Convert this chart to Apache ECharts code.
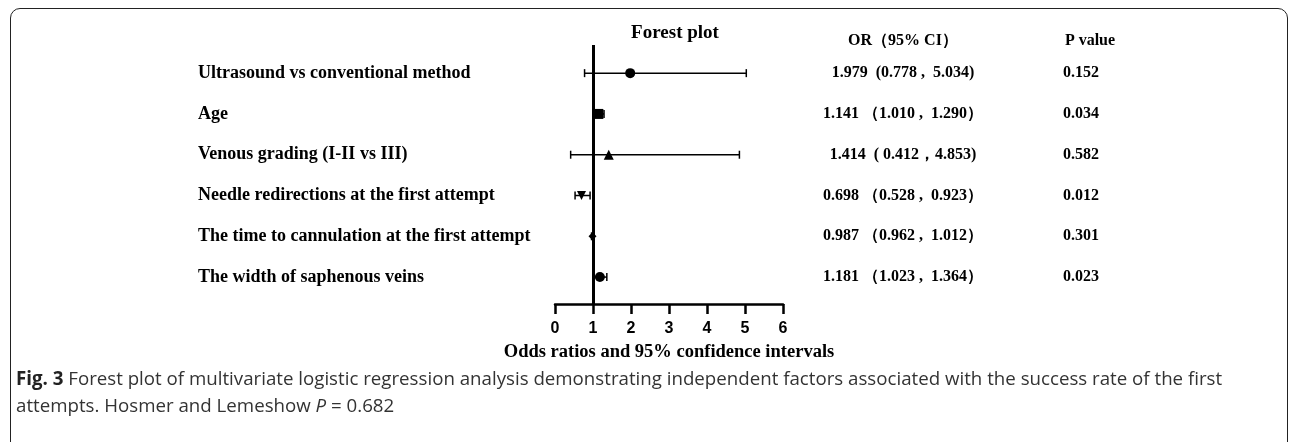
<!DOCTYPE html>
<html>
<head>
<meta charset="utf-8">
<script src="https://cdn.jsdelivr.net/npm/echarts@6/dist/echarts.min.js"></script>
<style>
  html, body { margin: 0; padding: 0; background: #fff; }
  #chart { width: 1292px; height: 442px; }
  #frame {
    position: absolute; left: 10px; top: 8px; width: 1278px; height: 520px;
    border: 1.5px solid #222; border-radius: 10px 10px 0 0;
    pointer-events: none; box-sizing: border-box;
  }
</style>
</head>
<body>
<div id="chart"></div>
<div id="frame"></div>
<script>
// rows, top to bottom
const factors = [
  'Ultrasound vs conventional method',
  'Age',
  'Venous grading (I-II vs III)',
  'Needle redirections at the first attempt',
  'The time to cannulation at the first attempt',
  'The width of saphenous veins'
];
const oddsRatio = [1.979, 1.141, 1.414, 0.698, 0.987, 1.181];
const ciLow = [0.778, 1.010, 0.412, 0.528, 0.962, 1.023];
const ciHigh = [5.034, 1.290, 4.853, 0.923, 1.012, 1.364];
const orText = [
  '1.979  (0.778 ,  5.034)',
  '1.141 （1.010 ,  1.290）',
  '1.414  ( 0.412，4.853)',
  '0.698 （0.528 ,  0.923）',
  '0.987 （0.962 ,  1.012）',
  '1.181 （1.023 ,  1.364）'
];
const pValues = ['0.152', '0.034', '0.582', '0.012', '0.301', '0.023'];
const markers = ['circle', 'rect', 'triangle', 'triangle', 'diamond', 'circle'];
const markerRotate = [0, 0, 0, 180, 0, 0];
const markerSize = [10, 10, 10, 9, 8, 10];
const xTicks = [0, 1, 2, 3, 4, 5, 6];

const rows = factors.map((f, i) => i + 1);
const serif = '"Liberation Serif", "Times New Roman", serif';
const captionFont = '"Open Sans", sans-serif';

const chart = echarts.init(document.getElementById('chart'));

const rowAxis = (extra) => Object.assign({
  type: 'value', inverse: true, min: 0.31, max: 6.66,
  axisLine: { show: false }, axisTick: { show: false }, splitLine: { show: false }
}, extra);

chart.setOption({
  animation: false,
  title: [
    { text: 'Forest plot', left: 670, top: 19, textAlign: 'center',
      textStyle: { fontFamily: serif, fontWeight: 'bold', fontSize: 19, color: '#000' } },
    { text: 'OR（95% CI）', left: 898, top: 28, textAlign: 'center',
      textStyle: { fontFamily: serif, fontWeight: 'bold', fontSize: 16, color: '#000' } },
    { text: 'P value', left: 1085, top: 28, textAlign: 'center',
      textStyle: { fontFamily: serif, fontWeight: 'bold', fontSize: 16, color: '#000' } },
    { text: '{b|Fig. 3} Forest plot of multivariate logistic regression analysis demonstrating independent factors associated with the success rate of the first\nattempts. Hosmer and Lemeshow {i|P} = 0.682',
      left: 11, top: 361,
      textStyle: {
        fontFamily: captionFont, fontSize: 18.7, color: '#333', fontWeight: 'normal', lineHeight: 27,
        rich: {
          b: { fontFamily: captionFont, fontSize: 18.7, fontWeight: 'bold', color: '#222' },
          i: { fontFamily: captionFont, fontSize: 18.7, fontStyle: 'italic', color: '#333' }
        }
      } }
  ],
  grid: { left: 555, right: 509, top: 45, bottom: 138 },
  xAxis: {
    type: 'value', min: 0, max: 6, interval: 1,
    name: 'Odds ratios and 95% confidence intervals',
    nameLocation: 'middle', nameGap: 39,
    nameTextStyle: { fontFamily: serif, fontWeight: 'bold', fontSize: 18.5, color: '#000' },
    axisLine: { lineStyle: { color: '#000', width: 2.5 } },
    axisTick: { length: 10, lineStyle: { color: '#000', width: 2.5 } },
    axisLabel: { margin: 17, fontFamily: '"Liberation Sans", Arial, sans-serif', fontWeight: 'bold',
      fontSize: 16, color: '#000', customValues: xTicks },
    splitLine: { show: false }
  },
  yAxis: [
    rowAxis({ position: 'left',
      axisLabel: { customValues: rows, align: 'left', margin: 357, fontFamily: serif, fontWeight: 'bold',
        fontSize: 18, color: '#000', formatter: v => factors[Math.round(v) - 1] } }),
    rowAxis({ position: 'right',
      axisLabel: { customValues: rows, align: 'center', margin: 120, fontFamily: serif, fontWeight: 'bold',
        fontSize: 16, color: '#000', formatter: v => orText[Math.round(v) - 1] } }),
    rowAxis({ position: 'right',
      axisLabel: { customValues: rows, align: 'center', margin: 298, fontFamily: serif, fontWeight: 'bold',
        fontSize: 16, color: '#000', formatter: v => pValues[Math.round(v) - 1] } })
  ],
  series: [
    {
      type: 'custom',
      yAxisIndex: 0,
      silent: true,
      encode: { x: [0, 1], y: 2 },
      data: rows.map((r, i) => [ciLow[i], ciHigh[i], r]),
      renderItem: (params, api) => {
        const a = api.coord([api.value(0), api.value(2)]);
        const b = api.coord([api.value(1), api.value(2)]);
        const cap = 4;
        const st = { stroke: '#000', lineWidth: 1.5 };
        return {
          type: 'group',
          children: [
            { type: 'line', shape: { x1: a[0], y1: a[1], x2: b[0], y2: b[1] }, style: st },
            { type: 'line', shape: { x1: a[0], y1: a[1] - cap, x2: a[0], y2: a[1] + cap }, style: st },
            { type: 'line', shape: { x1: b[0], y1: b[1] - cap, x2: b[0], y2: b[1] + cap }, style: st }
          ]
        };
      }
    },
    {
      type: 'scatter',
      yAxisIndex: 0,
      silent: true,
      itemStyle: { color: '#000', opacity: 1 },
      data: rows.map((r, i) => ({
        value: [oddsRatio[i], r],
        symbol: markers[i],
        symbolSize: markerSize[i],
        symbolRotate: markerRotate[i]
      })),
      markLine: {
        silent: true, symbol: 'none', label: { show: false },
        lineStyle: { color: '#000', width: 3, type: 'solid' },
        data: [{ xAxis: 1 }]
      }
    }
  ]
});
</script>
</body>
</html>
